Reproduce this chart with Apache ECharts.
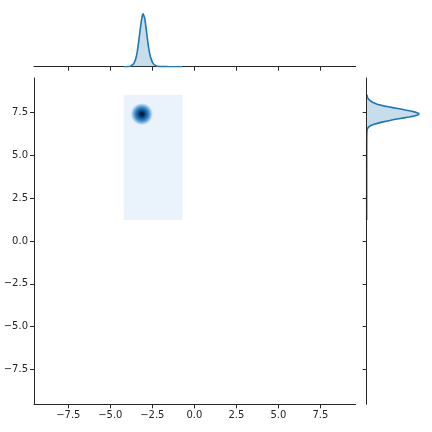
<!DOCTYPE html>
<html><head><meta charset="utf-8">
<script src="https://cdn.jsdelivr.net/npm/echarts@6/dist/echarts.min.js"></script>
<style>html,body{margin:0;padding:0;background:#fff}#c{width:432px;height:432px}</style>
</head><body><div id="c"></div>
<script>
// ---- data ----
const tickValues = [-7.5, -5, -2.5, 0, 2.5, 5, 7.5];
const xRange = [-9.54, 9.6];
const yRange = [-9.54, 9.53];

// top marginal KDE (x position, density)
const margXPos  = [-4.2,-4.0,-3.9,-3.8,-3.7,-3.6,-3.5,-3.45,-3.4,-3.35,-3.3,-3.25,-3.2,-3.15,-3.1,-3.05,-3.0,-2.95,-2.9,-2.85,-2.8,-2.75,-2.7,-2.65,-2.6,-2.5,-2.4,-2.3,-2.2,-2.0,-1.6,-0.7];
const margXDens = [0,0.001,0.004,0.012,0.035,0.09,0.2,0.29,0.42,0.58,0.76,0.95,1.14,1.31,1.45,1.52,1.49,1.38,1.21,1.02,0.82,0.64,0.49,0.36,0.26,0.13,0.06,0.025,0.01,0.003,0.001,0];

// right marginal KDE (y position, density)
const margYPos  = [1.23,5.0,6.0,6.4,6.55,6.65,6.75,6.85,6.95,7.05,7.1,7.15,7.2,7.25,7.3,7.35,7.4,7.45,7.5,7.55,7.6,7.65,7.7,7.75,7.8,7.85,7.9,8.0,8.1,8.2,8.3,8.4,8.55];
const margYDens = [0,0.0005,0.002,0.006,0.015,0.04,0.1,0.22,0.38,0.58,0.68,0.8,0.93,1.06,1.17,1.25,1.3,1.3,1.26,1.19,1.1,0.99,0.88,0.77,0.65,0.54,0.42,0.26,0.16,0.09,0.045,0.018,0.006];

// joint KDE: extent of lowest filled level, and the peak blob
const kdeBox = [[-4.2, -0.7, 1.23, 8.55]];          // xmin, xmax, ymin, ymax
const kdePeak = [[-3.125, 7.42, 0.744, 0.64]];      // cx, cy, rx, ry

const axisColor = '#262626';
const fmt = v => (v < 0 ? '\u2212' : '') + Math.abs(v).toFixed(1);

function valAxis(gridIndex, range, showLabel, z) {
  return {
    type: 'value', gridIndex, min: range[0], max: range[1], z: z || 0,
    axisLine: { show: true, onZero: false, lineStyle: { color: axisColor, width: 1 } },
    axisTick: { show: true, length: 4, customValues: tickValues, lineStyle: { color: axisColor, width: 1 } },
    axisLabel: { show: showLabel, customValues: tickValues, formatter: fmt, color: axisColor,
                 fontSize: 10, fontFamily: 'DejaVu Sans', margin: 6 },
    splitLine: { show: false }
  };
}
function hiddenAxis(gridIndex, min, max) {
  return { type: 'value', gridIndex, min, max, show: false, splitLine: { show: false } };
}

const chart = echarts.init(document.getElementById('c'), null, { renderer: 'canvas' });
const lineColor = '#1f77b4';

chart.setOption({
  animation: false,
  backgroundColor: '#fff',
  grid: [
    { left: 34, top: 78, width: 321.7, height: 326.3 },
    { left: 34, top: 5, width: 321.7, height: 61.7 },
    { left: 366.7, top: 78, width: 63, height: 326.3 }
  ],
  xAxis: [
    valAxis(0, xRange, true),
    valAxis(1, xRange, false),
    hiddenAxis(2, 0, 1.575)
  ],
  yAxis: [
    valAxis(0, yRange, true),
    hiddenAxis(1, 0, 1.76),
    valAxis(2, yRange, false, 10)
  ],
  series: [
    {
      type: 'custom', xAxisIndex: 0, yAxisIndex: 0, data: kdeBox, silent: true,
      renderItem: (params, api) => {
        const p0 = api.coord([api.value(0), api.value(3)]);
        const p1 = api.coord([api.value(1), api.value(2)]);
        return { type: 'rect', shape: { x: p0[0], y: p0[1], width: p1[0] - p0[0], height: p1[1] - p0[1] },
                 style: { fill: '#eaf3fb' } };
      }
    },
    {
      type: 'custom', xAxisIndex: 0, yAxisIndex: 0, data: kdePeak, silent: true,
      renderItem: (params, api) => {
        const c = api.coord([api.value(0), api.value(1)]);
        const s = api.size([api.value(2), api.value(3)]);
        return { type: 'ellipse', shape: { cx: c[0], cy: c[1], rx: s[0], ry: s[1] },
          style: { fill: new echarts.graphic.RadialGradient(0.5, 0.5, 0.5, [
            { offset: 0, color: '#04121f' },
            { offset: 0.18, color: '#08274d' },
            { offset: 0.38, color: '#1559a0' },
            { offset: 0.58, color: '#2f82c4' },
            { offset: 0.78, color: '#7fb6e0' },
            { offset: 0.92, color: '#c3dcf1' },
            { offset: 1, color: '#e6f0fa' }
          ]) } };
      }
    },
    {
      type: 'line', xAxisIndex: 1, yAxisIndex: 1, showSymbol: false, silent: true,
      data: margXPos.map((x, i) => [x, margXDens[i]]),
      lineStyle: { color: lineColor, width: 1.6 },
      areaStyle: { color: lineColor, opacity: 0.25 }
    },
    {
      type: 'custom', xAxisIndex: 2, yAxisIndex: 2, silent: true,
      data: margYPos.map((y, i) => [margYDens[i], y]),
      renderItem: (params, api) => {
        if (params.dataIndex !== 0) return null;
        const pts = margYPos.map((y, i) => api.coord([margYDens[i], y]));
        const poly = [api.coord([0, margYPos[0]])].concat(pts, [api.coord([0, margYPos[margYPos.length - 1]])]);
        return { type: 'group', children: [
          { type: 'polygon', shape: { points: poly }, style: { fill: lineColor, opacity: 0.25 } },
          { type: 'polyline', shape: { points: pts }, style: { stroke: lineColor, lineWidth: 1.6, fill: null } }
        ] };
      }
    }
  ]
});
</script></body></html>
